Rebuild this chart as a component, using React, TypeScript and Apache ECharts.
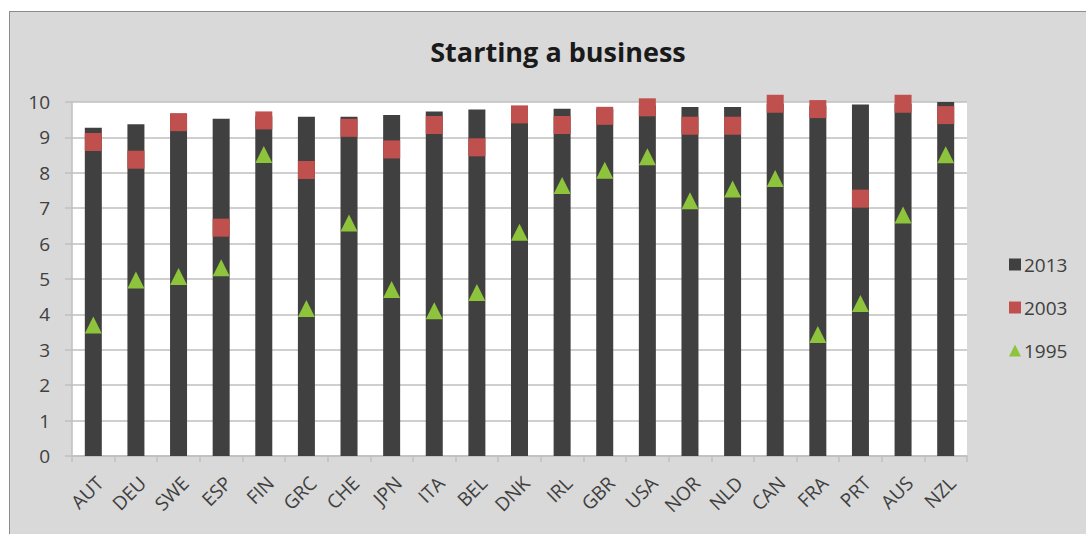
import React, { useEffect, useRef } from "react";
import * as echarts from "echarts";

const categories = ["AUT","DEU","SWE","ESP","FIN","GRC","CHE","JPN","ITA","BEL","DNK","IRL","GBR","USA","NOR","NLD","CAN","FRA","PRT","AUS","NZL"];
const values2013 = [9.27,9.37,9.67,9.53,9.6,9.58,9.58,9.63,9.73,9.79,9.8,9.81,9.8,9.9,9.86,9.86,9.95,9.9,9.93,9.95,10.03];
const values2003 = [8.87,8.37,9.43,6.45,9.48,8.08,9.27,8.66,9.35,8.72,9.65,9.35,9.61,9.85,9.33,9.33,9.95,9.8,7.27,9.95,9.63];
const values1995 = [3.7,4.97,5.07,5.32,8.52,4.17,6.58,4.7,4.1,4.62,6.32,7.64,8.07,8.45,7.21,7.54,7.84,3.43,4.31,6.81,8.51];
const yTicks = [0, 10, 1];

const FONT = "'Open Sans', 'DejaVu Sans', sans-serif";
const TEXT = "#404040";
const GRID = "#bfbfbf";

export default function App() {
  const ref = useRef<HTMLDivElement>(null);
  useEffect(() => {
    if (!ref.current) return;
    const chart = echarts.init(ref.current, null, { renderer: "svg" });
    chart.setOption({
      animation: false,
      backgroundColor: "transparent",
      title: {
        text: "Starting a business",
        left: 553,
        textAlign: "center",
        top: 33,
        textStyle: { fontFamily: FONT, fontWeight: "bold", fontSize: 27, color: "#1a1a1a" },
      },
      legend: {
        orient: "vertical",
        left: 1004,
        top: 250,
        itemGap: 24,
        itemWidth: 12,
        itemHeight: 12,
        textStyle: { fontFamily: FONT, fontSize: 19, color: TEXT, padding: [0, 0, 0, -2] },
        data: [
          { name: "2013", icon: "rect" },
          { name: "2003", icon: "rect" },
          { name: "1995", icon: "triangle" },
        ],
      },
      grid: {
        left: 72,
        right: 119,
        top: 102,
        bottom: 78,
        show: true,
        backgroundColor: "#ffffff",
        borderWidth: 0,
      },
      xAxis: {
        type: "category",
        data: categories,
        boundaryGap: true,
        axisLine: { show: true, lineStyle: { color: GRID, width: 1.5 } },
        axisTick: { show: true, length: 6, alignWithLabel: false, lineStyle: { color: GRID, width: 1.5 } },
        axisLabel: {
          rotate: 45,
          fontFamily: FONT,
          fontSize: 19,
          color: TEXT,
          margin: 17,
          interval: 0,
          verticalAlign: "top",
        },
      },
      yAxis: {
        type: "value",
        min: yTicks[0],
        max: yTicks[1],
        interval: yTicks[2],
        axisLine: { show: true, lineStyle: { color: GRID, width: 1.5 } },
        axisTick: { show: true, length: 7, lineStyle: { color: GRID, width: 1.5 } },
        axisLabel: { fontFamily: FONT, fontSize: 19, color: TEXT, margin: 22 },
        splitLine: { show: true, lineStyle: { color: GRID, width: 1.5 } },
      },
      series: [
        {
          name: "2013",
          type: "bar",
          data: values2013,
          barWidth: 17,
          itemStyle: { color: "#404040" },
        },
        {
          name: "2003",
          type: "scatter",
          data: values2003,
          symbol: "rect",
          symbolSize: [17, 18],
          itemStyle: { color: "#c0504d", opacity: 1 },
        },
        {
          name: "1995",
          type: "scatter",
          data: values1995,
          symbol: "triangle",
          symbolSize: 17,
          itemStyle: { color: "#8dc43c", opacity: 1 },
        },
      ],
    });
    return () => chart.dispose();
  }, []);

  return (
    <div style={{ position: "fixed", left: 0, top: 0, width: 1086, height: 534, background: "#ffffff", overflow: "hidden" }}>
      <div style={{ position: "absolute", left: 9, top: 11, width: 1100, height: 600, background: "#d9d9d9", border: "1.5px solid #8c8c8c" }} />
      <div ref={ref} style={{ position: "absolute", left: 0, top: 0, width: 1086, height: 534 }} />
    </div>
  );
}
